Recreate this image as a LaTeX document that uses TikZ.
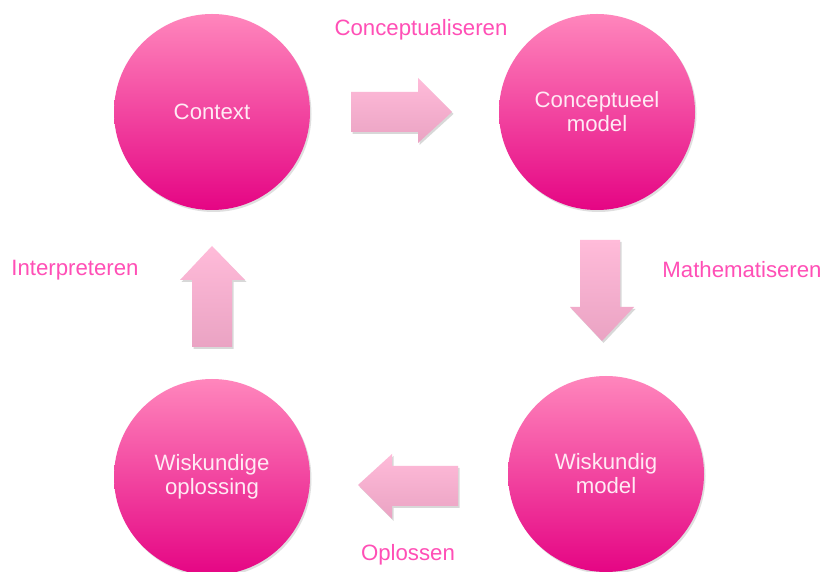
\documentclass[tikz,border=0pt]{standalone}
\usepackage{fontspec}
\setmainfont{Liberation Sans}
\usetikzlibrary{shadows}
\definecolor{balltop}{HTML}{FF86BC}
\definecolor{ballbot}{HTML}{E50584}
\definecolor{balltext}{HTML}{FFEAF4}
\definecolor{steptext}{HTML}{FF4FB6}
\definecolor{arrtop}{HTML}{FFBBD9}
\definecolor{arrbot}{HTML}{EAA3C3}
\begin{document}
\begin{tikzpicture}[x=1pt,y=1pt]
    \tikzstyle{ball}=[circle, minimum size=196pt, inner sep=0pt, top color=balltop, bottom color=ballbot,
      drop shadow={opacity=0.25, shadow xshift=1.5pt, shadow yshift=-2pt},
      text=balltext, align=center, font=\fontsize{22.2}{24}\selectfont]
    \tikzstyle{stepname}=[text=steptext, font=\fontsize{22.2}{24}\selectfont]
    \tikzstyle{blockarrow}=[top color=arrtop, bottom color=arrbot,
      drop shadow={opacity=0.3, shadow xshift=1.5pt, shadow yshift=-2pt}]
    \useasboundingbox[fill=white] (0,0) rectangle (826,572);
    % de vier toestanden
    \node[ball] (context) at (212,460) {Context};
    \node[ball] (concept) at (597,460) {Conceptueel\\model};
    \node[ball] (wmodel) at (606,98) {Wiskundig\\model};
    \node[ball] (wopl) at (212,95) {Wiskundige\\oplossing};
    % blokpijlen
    \path[blockarrow] (351,440) -- (418,440) -- (418,429) -- (452,460) -- (418,494) -- (418,480) -- (351,480) -- cycle;
    \path[blockarrow] (580,332) -- (620,332) -- (620,265) -- (634,265) -- (602,231) -- (570,265) -- (580,265) -- cycle;
    \path[blockarrow] (458,66) -- (392,66) -- (392,53) -- (358,87) -- (392,118) -- (392,106) -- (458,106) -- cycle;
    \path[blockarrow] (192,225) -- (232,225) -- (232,292) -- (245,292) -- (212,326) -- (180,292) -- (192,292) -- cycle;
    % stappen
    \node[stepname] (conc) at (421,542) {Conceptualiseren};
    \node[stepname] (math) at (742,302) {Mathematiseren};
    \node[stepname] (opl) at (408,17) {Oplossen};
    \node[stepname] (interp) at (75,302) {Interpreteren};
\end{tikzpicture}
\end{document}
